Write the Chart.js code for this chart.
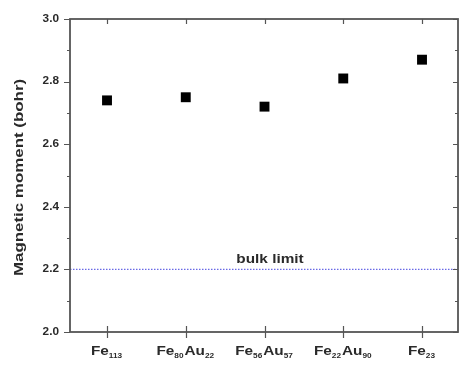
<!DOCTYPE html>
<html>
<head>
<meta charset="utf-8">
<script src="https://cdn.jsdelivr.net/npm/chart.js@4/dist/chart.umd.min.js"></script>
<style>
  html, body { margin: 0; padding: 0; background: #fff; overflow: hidden; }
  canvas { display: block; }
</style>
</head>
<body>
<canvas id="grafico" width="459" height="365"></canvas>
<script>
// compuestos (nombre base + subindices) y momento magnetico medido
const compuestos = [
  [["Fe", "113"]],
  [["Fe", "80"], ["Au", "22"]],
  [["Fe", "56"], ["Au", "57"]],
  [["Fe", "22"], ["Au", "90"]],
  [["Fe", "23"]]
];
const momentos = [2.74, 2.75, 2.72, 2.81, 2.87];
const limiteBulk = 2.2;
const ticksY = [2.0, 2.2, 2.4, 2.6, 2.8, 3.0];
const menoresY = [2.1, 2.3, 2.5, 2.7, 2.9];
const tituloY = "Magnetic moment (bohr)";
const textoLimite = "bulk limit";

const FUENTE = "'Liberation Sans', Arial, sans-serif";
const COLOR_EJE = "#555";
const COLOR_TEXTO = "#2a2a2a";
const ESTIRAR = 1.18; // el texto se ve algo ancho

// escribe texto estirado en horizontal
function textoAncho(ctx, txt, x, y) {
  ctx.save();
  ctx.translate(x, y);
  ctx.scale(ESTIRAR, 1);
  ctx.fillText(txt, 0, 0);
  ctx.restore();
}

// ejes, marcas y textos dibujados a mano sobre las escalas del grafico
const ejesPlugin = {
  id: "ejes",
  afterDraw(chart) {
    const ctx = chart.ctx;
    const a = chart.chartArea;
    const sx = chart.scales.x, sy = chart.scales.y;
    ctx.save();
    ctx.strokeStyle = COLOR_EJE;
    ctx.lineWidth = 1.8;
    ctx.strokeRect(a.left, a.top, a.right - a.left, a.bottom - a.top);

    ctx.lineWidth = 1.2;
    ctx.beginPath();
    ticksY.forEach(v => {
      const y = Math.round(sy.getPixelForValue(v)) + 0.5;
      ctx.moveTo(a.left - 6, y); ctx.lineTo(a.left, y);
      ctx.moveTo(a.right, y); ctx.lineTo(a.right - 5, y);
    });
    menoresY.forEach(v => {
      const y = Math.round(sy.getPixelForValue(v)) + 0.5;
      ctx.moveTo(a.left - 3, y); ctx.lineTo(a.left, y);
      ctx.moveTo(a.right, y); ctx.lineTo(a.right - 3, y);
    });
    compuestos.forEach((c, i) => {
      const x = Math.round(sx.getPixelForValue(i + 1)) + 0.5;
      ctx.moveTo(x, a.bottom - 6); ctx.lineTo(x, a.bottom + 6);
      ctx.moveTo(x, a.top); ctx.lineTo(x, a.top + 5);
    });
    ctx.stroke();

    // etiquetas del eje y
    ctx.fillStyle = COLOR_TEXTO;
    ctx.font = "bold 10px " + FUENTE;
    ctx.textAlign = "right";
    ctx.textBaseline = "middle";
    ticksY.forEach(v => {
      textoAncho(ctx, v.toFixed(1), a.left - 11, sy.getPixelForValue(v));
    });

    // etiquetas del eje x con subindices
    ctx.textAlign = "left";
    ctx.textBaseline = "alphabetic";
    const base = "bold 13px " + FUENTE;
    const sub = "bold 7px " + FUENTE;
    compuestos.forEach((partes, i) => {
      let ancho = 0;
      partes.forEach(p => {
        ctx.font = base; ancho += ctx.measureText(p[0]).width * ESTIRAR;
        ctx.font = sub; ancho += ctx.measureText(p[1]).width * ESTIRAR + 1;
      });
      let x = sx.getPixelForValue(i + 1) - ancho / 2;
      const y = a.bottom + 23;
      partes.forEach(p => {
        ctx.font = base; textoAncho(ctx, p[0], x, y); x += ctx.measureText(p[0]).width * ESTIRAR;
        ctx.font = sub; textoAncho(ctx, p[1], x, y + 3); x += ctx.measureText(p[1]).width * ESTIRAR + 1;
      });
    });

    // titulo del eje y
    ctx.save();
    ctx.translate(19, (a.top + a.bottom) / 2 + 2);
    ctx.rotate(-Math.PI / 2);
    ctx.scale(1.3, 1);
    ctx.font = "bold 13px " + FUENTE;
    ctx.textAlign = "center";
    ctx.textBaseline = "middle";
    ctx.fillText(tituloY, 0, 0);
    ctx.restore();

    // texto del limite bulk
    ctx.font = "bold 13px " + FUENTE;
    ctx.textAlign = "center";
    ctx.textBaseline = "alphabetic";
    textoAncho(ctx, textoLimite, 270, sy.getPixelForValue(limiteBulk) - 6);
    ctx.restore();
  }
};

const ctxGrafico = document.getElementById("grafico");

new Chart(ctxGrafico, {
  type: "scatter",
  data: {
    datasets: [
      {
        data: momentos.map((m, i) => ({ x: i + 1, y: m })),
        pointStyle: "rect",
        pointRadius: 7,
        pointHoverRadius: 7,
        backgroundColor: "#000",
        borderColor: "#000",
        borderWidth: 0
      },
      {
        data: [{ x: 0.53, y: limiteBulk }, { x: 5.457, y: limiteBulk }],
        showLine: true,
        pointRadius: 0,
        borderColor: "#6a6ae6",
        borderWidth: 1.3,
        borderDash: [1.5, 1.5]
      }
    ]
  },
  options: {
    responsive: false,
    animation: false,
    layout: { autoPadding: false, padding: { left: 70, right: 1, top: 19, bottom: 33 } },
    plugins: { legend: { display: false }, tooltip: { enabled: false } },
    scales: {
      x: { type: "linear", min: 0.53, max: 5.457, display: false },
      y: { type: "linear", min: 2.0, max: 3.0, display: false }
    }
  },
  plugins: [ejesPlugin]
});
</script>
</body>
</html>
